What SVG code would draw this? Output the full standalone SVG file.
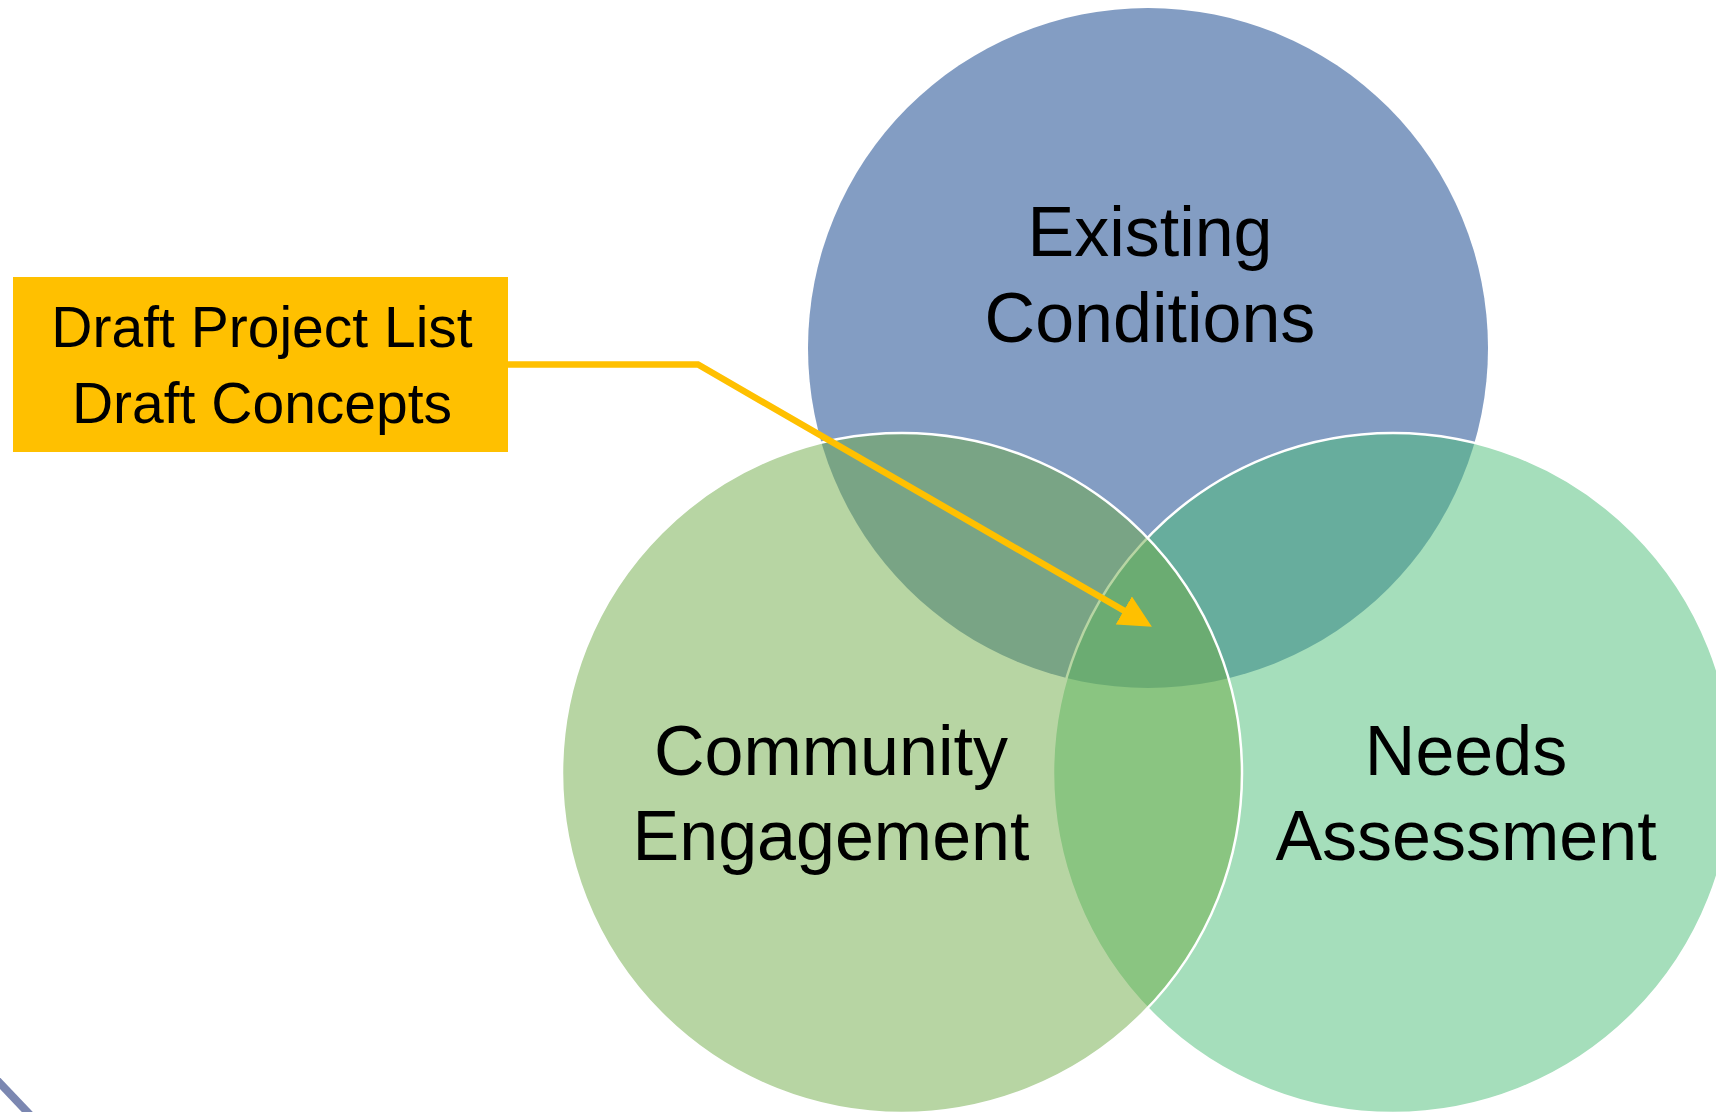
<svg xmlns="http://www.w3.org/2000/svg" width="1716" height="1112" viewBox="0 0 1716 1112">
<style>
.lbl{font-family:"Liberation Sans",Arial,sans-serif;font-size:70px;fill:#000;text-anchor:middle}
.box{font-family:"Liberation Sans",Arial,sans-serif;font-size:57px;fill:#000;text-anchor:middle}
.ring{stroke:#fff;stroke-width:2.5}
</style>
<defs>
<marker id="ah" markerWidth="5" markerHeight="5" refX="2" refY="2.5" orient="auto" markerUnits="strokeWidth" viewBox="0 0 5 5">
<path d="M0,0 L5,2.5 L0,5 z" fill="#FFC000"/>
</marker>
</defs>
<rect width="1716" height="1112" fill="#fff"/>
<line x1="-6" y1="1077" x2="34" y2="1119" stroke="#7B87B1" stroke-width="8"/>
<g id="existing">
<circle cx="1148" cy="348" r="340" fill="#839DC3"/>
</g>
<g id="needs">
<circle class="ring" cx="1393" cy="773" r="340" fill="#4BBD77" fill-opacity="0.5"/>
</g>
<g id="community">
<circle class="ring" cx="902" cy="773" r="340" fill="#6FAB47" fill-opacity="0.5"/>
</g>
<g id="labels">
<text class="lbl" x="1150" y="256">Existing</text>
<text class="lbl" x="1150" y="342">Conditions</text>
<text class="lbl" x="831" y="775">Community</text>
<text class="lbl" x="831" y="860">Engagement</text>
<text class="lbl" x="1466" y="775">Needs</text>
<text class="lbl" x="1466" y="860">Assessment</text>
</g>
<g id="connectors">
<polyline points="506,364.5 698,364.5 1135,617" fill="none" stroke="#FFC000" stroke-width="6.5" stroke-linejoin="miter" marker-end="url(#ah)"/>
</g>
<g id="draft">
<rect x="13" y="277" width="495" height="175" fill="#FFC000"/>
<text class="box" x="262" y="347">Draft Project List</text>
<text class="box" x="262" y="423">Draft Concepts</text>
</g>
</svg>
